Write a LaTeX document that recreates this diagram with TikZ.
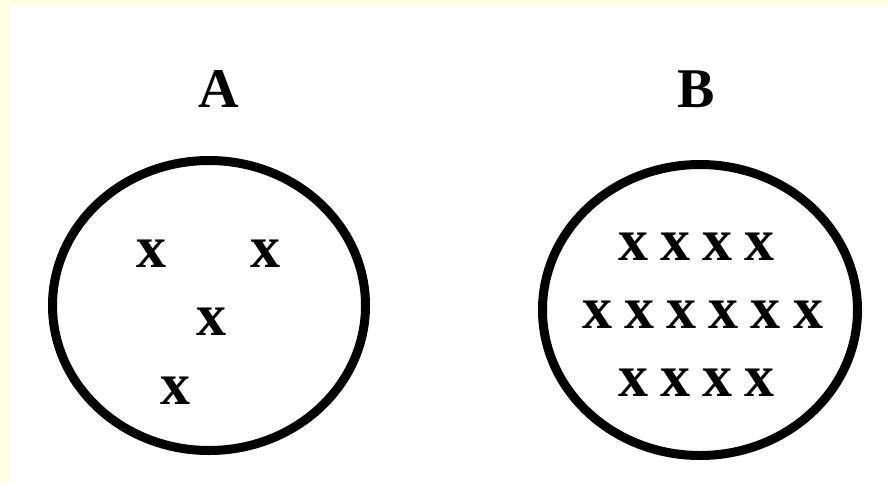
\documentclass[tikz,border=0pt]{standalone}
\usepackage{fontspec}
\setmainfont{Liberation Serif}
\usetikzlibrary{shapes.geometric}
\definecolor{paleyellow}{RGB}{255,254,226}
\tikzset{
  setring/.style={draw=black, line width=9pt, ellipse, inner sep=0pt},
  setlabel/.style={inner sep=0pt, font=\fontsize{56}{60}\selectfont\bfseries},
  elem/.style={inner sep=0pt, font=\fontsize{60}{64}\selectfont\bfseries}
}
\begin{document}
\begin{tikzpicture}[x=1pt,y=-1pt]
\useasboundingbox (0,0) rectangle (888,483);
\fill[white] (0,0) rectangle (888,483);
\fill[paleyellow] (0,0) rectangle (888,6);
\fill[paleyellow] (0,0) rectangle (10,483);
% sets
\node[setring, minimum width=313pt, minimum height=290pt] (circA) at (209,305.5) {};
\node[setring, minimum width=315pt, minimum height=291pt] (circB) at (700,310) {};
% labels
\node[setlabel] (labA) at (219,89) {A};
\node[setlabel] (labB) at (696,89) {B};
% elements of A
\node[elem] (a1) at (151.5,254) {x};
\node[elem] (a2) at (265,254) {x};
\node[elem] (a3) at (211,322) {x};
\node[elem] (a4) at (175,391) {x};
% elements of B
\foreach \i/\xx in {1/633.5,2/675,3/717,4/759}{
  \node[elem] (b1\i) at (\xx,246.5) {x};
  \node[elem] (b3\i) at (\xx,383) {x};
}
\foreach \i/\xx in {1/597,2/639.5,3/681.5,4/723.5,5/765.5,6/808}{
  \node[elem] (b2\i) at (\xx,315) {x};
}
\end{tikzpicture}
\end{document}
